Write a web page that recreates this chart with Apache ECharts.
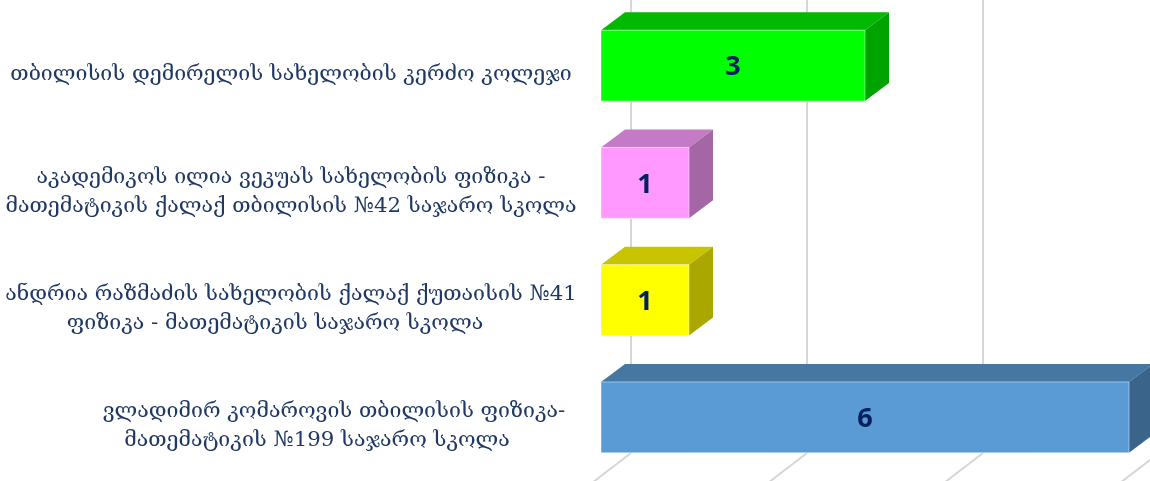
<!DOCTYPE html>
<html lang="ka">
<head>
    <meta charset="utf-8">
    <script src="https://cdn.jsdelivr.net/npm/echarts@6/dist/echarts.min.js"></script>
    <style>
        html, body {
            margin: 0px;
            padding: 0px;
            background-color: #fff;
        }

        #chart {
            width: 1150px;
            height: 481px;
        }
    </style>
</head>
<body>
<div id="chart"></div>
<script type="text/javascript">
    // data
    var schools = [
        'თბილისის დემირელის სახელობის კერძო კოლეჯი',
        'აკადემიკოს ილია ვეკუას სახელობის ფიზიკა -\nმათემატიკის ქალაქ თბილისის №42 საჯარო სკოლა',
        'ანდრია რაზმაძის სახელობის ქალაქ ქუთაისის №41\nფიზიკა - მათემატიკის საჯარო სკოლა',
        'ვლადიმირ კომაროვის თბილისის ფიზიკა-\nმათემატიკის №199 საჯარო სკოლა'
    ];
    var counts = [3, 1, 1, 6];
    var gridTicks = [0, 2, 4, 6];

    // front / top / side colours of each bar
    var faceColors = [
        ['#00ff00', '#00b900', '#00a300'],
        ['#ff99ff', '#c47ac4', '#a566a5'],
        ['#ffff00', '#c8c400', '#aaa700'],
        ['#5b9bd5', '#4677a3', '#3a6489']
    ];

    // horizontal shift of single label lines (Excel centres them a bit oddly)
    var lineShift = {
        '2-1': [0, 32, 0, 0],
        '3-0': [0, 0, 0, 86],
        '3-1': [0, 0, 0, 52]
    };

    var DX = 24, DY = -18;          // bar depth
    var FDX = 30, FDY = -23;        // floor depth

    var labelFont = '"DejaVu Serif", serif';
    var labelSize = 21.3;
    var rich = {};
    rich.n = {fontFamily: labelFont, fontSize: labelSize, lineHeight: 29, color: '#1f3864'};
    for (var k in lineShift) {
        rich['s' + k.replace('-', '_')] = {
            fontFamily: labelFont, fontSize: labelSize, lineHeight: 29, color: '#1f3864',
            padding: lineShift[k]
        };
    }

    var myChart = echarts.init(document.getElementById('chart'));

    function renderWall(params, api) {
        var cs = params.coordSys;
        var p = api.coord([api.value(0), 0]);
        var x = p[0] + FDX;
        var yBack = cs.y + cs.height + FDY;
        var lineStyle = {stroke: '#d6d6d6', lineWidth: 2};
        return {
            type: 'group',
            children: [
                {type: 'line', shape: {x1: x, y1: -10, x2: x, y2: yBack}, style: lineStyle},
                {type: 'line', shape: {x1: x, y1: yBack, x2: x - FDX * 1.4, y2: yBack - FDY * 1.4}, style: lineStyle}
            ]
        };
    }

    function renderBar(params, api) {
        var val = api.value(0);
        var cat = api.value(1);
        var p0 = api.coord([0, cat]);
        var p1 = api.coord([val, cat]);
        var h = api.size([0, 1])[1] * 0.605;
        var yT = p0[1] - h / 2;
        var yB = p0[1] + h / 2;
        var c = faceColors[params.dataIndex];
        return {
            type: 'group',
            children: [
                {
                    type: 'polygon',
                    shape: {points: [[p0[0], yT], [p0[0] + DX, yT + DY], [p1[0] + DX, yT + DY], [p1[0], yT]]},
                    style: {fill: c[1]}
                },
                {
                    type: 'polygon',
                    shape: {points: [[p1[0], yT], [p1[0] + DX, yT + DY], [p1[0] + DX, yB + DY], [p1[0], yB]]},
                    style: {fill: c[2]}
                },
                {
                    type: 'rect',
                    shape: {x: p0[0], y: yT, width: p1[0] - p0[0], height: h},
                    style: {fill: c[0], stroke: 'rgba(255,255,255,0.45)', lineWidth: 1}
                },
                {
                    type: 'text',
                    style: {
                        text: String(val),
                        x: (p0[0] + p1[0]) / 2,
                        y: p0[1] + 2,
                        align: 'center',
                        verticalAlign: 'middle',
                        font: 'bold 27px "Open Sans", sans-serif',
                        fill: '#002060'
                    }
                }
            ]
        };
    }

    var option = {
        animation: false,
        grid: {
            left: 601,
            right: 21,
            top: 7,
            bottom: 5
        },
        xAxis: {
            type: 'value',
            min: 0,
            max: 6,
            show: false
        },
        yAxis: {
            type: 'category',
            inverse: true,
            data: schools,
            axisLine: {show: false},
            axisTick: {show: false},
            splitLine: {show: false},
            axisLabel: {
                margin: 310,
                align: 'center',
                verticalAlign: 'middle',
                padding: [18, 0, 0, 0],
                formatter: function (value, index) {
                    return value.split('\n').map(function (line, li) {
                        var key = index + '-' + li;
                        var name = lineShift[key] ? 's' + index + '_' + li : 'n';
                        return '{' + name + '|' + line + '}';
                    }).join('\n');
                },
                rich: rich
            }
        },
        series: [
            {
                type: 'custom',
                name: 'wall',
                silent: true,
                z: 1,
                renderItem: renderWall,
                encode: {x: 0, y: 1},
                data: gridTicks.map(function (v) { return [v, 0]; })
            },
            {
                type: 'custom',
                name: 'schools',
                z: 2,
                renderItem: renderBar,
                encode: {x: 0, y: 1},
                data: counts.map(function (v, i) { return [v, i]; })
            }
        ]
    };

    myChart.setOption(option);
</script>
</body>
</html>
